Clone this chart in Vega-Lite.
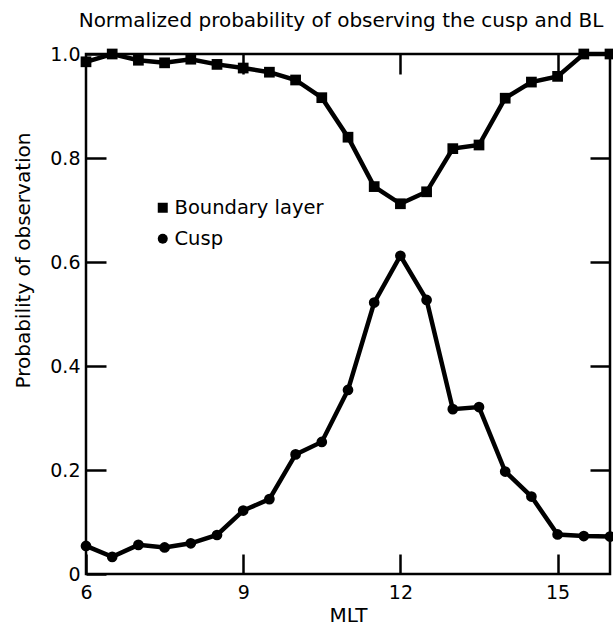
{
  "$schema": "https://vega.github.io/schema/vega-lite/v6.json",
  "width": 524,
  "height": 520,
  "autosize": {"type": "none"},
  "padding": {"left": 86, "top": 54, "right": 3, "bottom": 53},
  "background": "white",
  "title": {
    "text": "Normalized probability of observing the cusp and BL",
    "font": "DejaVu Sans",
    "fontSize": 20,
    "fontWeight": "normal",
    "color": "black",
    "anchor": "middle",
    "offset": 14,
    "dx": -7
  },
  "config": {
    "view": {"stroke": "black", "strokeWidth": 2.5},
    "axis": {
      "domain": false,
      "grid": false,
      "tickColor": "black",
      "tickWidth": 2.5,
      "tickSize": -20,
      "labelFont": "DejaVu Sans",
      "labelFontSize": 19,
      "labelColor": "black",
      "labelFlush": false,
      "titleFont": "DejaVu Sans",
      "titleFontSize": 20,
      "titleFontWeight": "normal",
      "titleColor": "black"
    },
    "legend": {
      "labelFont": "DejaVu Sans",
      "labelFontSize": 19.5,
      "labelColor": "black"
    }
  },
  "data": {
    "values": [
      {"mlt": 6.0, "p": 0.985, "series": "Boundary layer"},
      {"mlt": 6.5, "p": 1.0, "series": "Boundary layer"},
      {"mlt": 7.0, "p": 0.988, "series": "Boundary layer"},
      {"mlt": 7.5, "p": 0.983, "series": "Boundary layer"},
      {"mlt": 8.0, "p": 0.99, "series": "Boundary layer"},
      {"mlt": 8.5, "p": 0.98, "series": "Boundary layer"},
      {"mlt": 9.0, "p": 0.973, "series": "Boundary layer"},
      {"mlt": 9.5, "p": 0.965, "series": "Boundary layer"},
      {"mlt": 10.0, "p": 0.95, "series": "Boundary layer"},
      {"mlt": 10.5, "p": 0.916, "series": "Boundary layer"},
      {"mlt": 11.0, "p": 0.84, "series": "Boundary layer"},
      {"mlt": 11.5, "p": 0.745, "series": "Boundary layer"},
      {"mlt": 12.0, "p": 0.712, "series": "Boundary layer"},
      {"mlt": 12.5, "p": 0.735, "series": "Boundary layer"},
      {"mlt": 13.0, "p": 0.818, "series": "Boundary layer"},
      {"mlt": 13.5, "p": 0.825, "series": "Boundary layer"},
      {"mlt": 14.0, "p": 0.915, "series": "Boundary layer"},
      {"mlt": 14.5, "p": 0.946, "series": "Boundary layer"},
      {"mlt": 15.0, "p": 0.957, "series": "Boundary layer"},
      {"mlt": 15.5, "p": 1.0, "series": "Boundary layer"},
      {"mlt": 16.0, "p": 1.0, "series": "Boundary layer"},
      {"mlt": 6.0, "p": 0.054, "series": "Cusp"},
      {"mlt": 6.5, "p": 0.033, "series": "Cusp"},
      {"mlt": 7.0, "p": 0.056, "series": "Cusp"},
      {"mlt": 7.5, "p": 0.051, "series": "Cusp"},
      {"mlt": 8.0, "p": 0.059, "series": "Cusp"},
      {"mlt": 8.5, "p": 0.075, "series": "Cusp"},
      {"mlt": 9.0, "p": 0.122, "series": "Cusp"},
      {"mlt": 9.5, "p": 0.144, "series": "Cusp"},
      {"mlt": 10.0, "p": 0.23, "series": "Cusp"},
      {"mlt": 10.5, "p": 0.254, "series": "Cusp"},
      {"mlt": 11.0, "p": 0.354, "series": "Cusp"},
      {"mlt": 11.5, "p": 0.522, "series": "Cusp"},
      {"mlt": 12.0, "p": 0.612, "series": "Cusp"},
      {"mlt": 12.5, "p": 0.527, "series": "Cusp"},
      {"mlt": 13.0, "p": 0.317, "series": "Cusp"},
      {"mlt": 13.5, "p": 0.321, "series": "Cusp"},
      {"mlt": 14.0, "p": 0.197, "series": "Cusp"},
      {"mlt": 14.5, "p": 0.149, "series": "Cusp"},
      {"mlt": 15.0, "p": 0.076, "series": "Cusp"},
      {"mlt": 15.5, "p": 0.073, "series": "Cusp"},
      {"mlt": 16.0, "p": 0.072, "series": "Cusp"}
    ]
  },
  "layer": [
    {
      "mark": {"type": "line", "color": "black", "strokeWidth": 4.5},
      "encoding": {
        "x": {
          "field": "mlt",
          "type": "quantitative",
          "scale": {"domain": [6, 16], "nice": false, "zero": false},
          "axis": {
            "orient": "bottom",
            "values": [6, 9, 12, 15],
            "title": "MLT",
            "labelPadding": 29,
            "titlePadding": 3
          }
        },
        "y": {
          "field": "p",
          "type": "quantitative",
          "scale": {"domain": [0, 1], "nice": false},
          "axis": {
            "orient": "left",
            "values": [0, 0.2, 0.4, 0.6, 0.8, 1.0],
            "labelExpr": "datum.value == 0 ? '0' : format(datum.value, '.1f')",
            "labelPadding": 26,
            "title": "Probability of observation",
            "titleX": -63,
            "titleY": 206,
            "titleAngle": -90,
            "titleAlign": "center",
            "titleBaseline": "middle"
          }
        },
        "detail": {"field": "series"}
      }
    },
    {
      "mark": {"type": "point", "filled": true, "color": "black", "opacity": 1, "size": 115},
      "encoding": {
        "x": {
          "field": "mlt",
          "type": "quantitative",
          "axis": {"orient": "top", "values": [9, 12, 15], "labels": false, "title": null}
        },
        "y": {
          "field": "p",
          "type": "quantitative",
          "axis": {"orient": "right", "values": [0.2, 0.4, 0.6, 0.8], "labels": false, "title": null}
        },
        "shape": {
          "field": "series",
          "type": "nominal",
          "scale": {"domain": ["Boundary layer", "Cusp"], "range": ["square", "circle"]},
          "legend": {
            "title": null,
            "orient": "none",
            "legendX": 67,
            "legendY": 144,
            "symbolFillColor": "black",
            "symbolStrokeColor": "black",
            "symbolSize": 100,
            "rowPadding": 10,
            "labelOffset": 2
          }
        }
      }
    }
  ],
  "resolve": {"axis": {"x": "independent", "y": "independent"}}
}
